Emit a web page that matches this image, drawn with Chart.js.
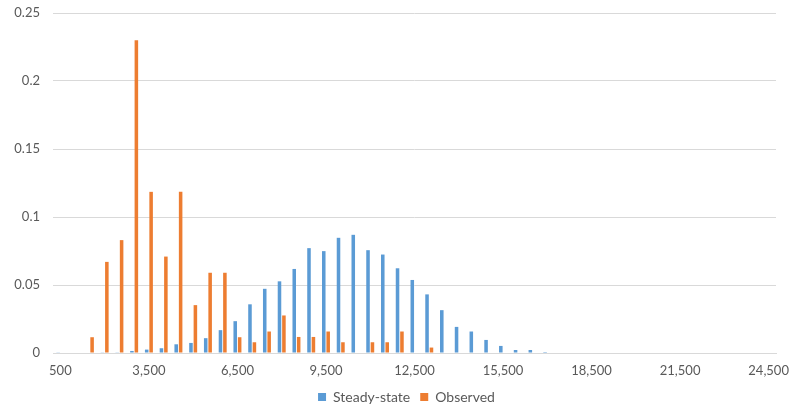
<!DOCTYPE html>
<html>
<head>
<meta charset="utf-8">
<script src="https://cdn.jsdelivr.net/npm/chart.js@4/dist/chart.umd.min.js"></script>
<style>
  html, body { margin: 0; padding: 0; background: #ffffff; }
  #wrap { width: 791px; height: 410px; position: relative; }
</style>
</head>
<body>
<div id="wrap"><canvas id="chart"></canvas></div>
<script>
// Bins of 500 from 500 to 24,500
const categories = [
  500, 1000, 1500, 2000, 2500, 3000, 3500, 4000, 4500, 5000,
  5500, 6000, 6500, 7000, 7500, 8000, 8500, 9000, 9500, 10000,
  10500, 11000, 11500, 12000, 12500, 13000, 13500, 14000, 14500, 15000,
  15500, 16000, 16500, 17000, 17500, 18000, 18500, 19000, 19500, 20000,
  20500, 21000, 21500, 22000, 22500, 23000, 23500, 24000, 24500
];

const steadyState = [
  0.0005, 0, 0, 0.0005, 0.0005, 0.0015, 0.0025, 0.0035, 0.0064, 0.0074,
  0.0109, 0.0168, 0.0234, 0.0358, 0.0472, 0.0527, 0.0618, 0.0771, 0.0749, 0.0847,
  0.0869, 0.0756, 0.0724, 0.0623, 0.0537, 0.0431, 0.0315, 0.0192, 0.0158, 0.0096,
  0.0052, 0.0022, 0.0022, 0.0007, 0, 0, 0, 0, 0, 0,
  0, 0, 0, 0, 0, 0, 0, 0, 0
];

const observed = [
  0, 0, 0.0116, 0.067, 0.083, 0.23, 0.1185, 0.0709, 0.1185, 0.0352,
  0.059, 0.059, 0.0116, 0.0079, 0.0158, 0.0276, 0.0118, 0.0118, 0.0158, 0.0079,
  0, 0.0079, 0.0079, 0.0158, 0, 0.004, 0, 0, 0, 0,
  0, 0, 0, 0, 0, 0, 0, 0, 0, 0,
  0, 0, 0, 0, 0, 0, 0, 0, 0
];

const yTicks = [0, 0.05, 0.1, 0.15, 0.2, 0.25];

const fmt = new Intl.NumberFormat('en-US');
const labels = categories.map(v => fmt.format(v));

const textColor = '#595959';
const gridColor = '#D9D9D9';
const font = { family: 'Lato, "Open Sans", sans-serif', size: 13 };
const legendFont = { family: 'Lato, "Open Sans", sans-serif', size: 14 };

new Chart(document.getElementById('chart'), {
  type: 'bar',
  data: {
    labels: labels,
    datasets: [
      {
        label: 'Steady-state',
        data: steadyState,
        backgroundColor: '#5B9BD5',
        categoryPercentage: 0.6,
        barPercentage: 0.8
      },
      {
        label: 'Observed',
        data: observed,
        backgroundColor: '#ED7D31',
        categoryPercentage: 0.6,
        barPercentage: 0.8
      }
    ]
  },
  options: {
    responsive: true,
    maintainAspectRatio: false,
    animation: false,
    // negative right padding widens the legend box so it centres under the plot
    layout: { padding: { left: 0, right: -22, top: 0, bottom: -4 } },
    plugins: {
      tooltip: { enabled: false },
      legend: {
        position: 'bottom',
        labels: {
          color: textColor,
          font: legendFont,
          boxWidth: 8,
          boxHeight: 8,
          padding: 10
        }
      }
    },
    scales: {
      x: {
        type: 'category',
        grid: { display: false },
        border: { display: true, color: gridColor, width: 1 },
        ticks: {
          color: textColor,
          font: font,
          autoSkip: false,
          maxRotation: 0,
          minRotation: 0,
          padding: 2,
          callback: function (value, index) {
            return index % 6 === 0 ? this.getLabelForValue(value) : '';
          }
        },
        afterFit: function (scale) {
          scale.height = 27;
          scale.paddingRight = 15;
        }
      },
      y: {
        min: 0,
        max: 0.25,
        grid: { color: gridColor, lineWidth: 1, drawTicks: false },
        border: { display: false },
        afterBuildTicks: function (scale) {
          scale.ticks = yTicks.map(v => ({ value: v }));
        },
        ticks: {
          color: textColor,
          font: font,
          padding: 13,
          callback: function (value) { return String(+value.toFixed(2)); }
        },
        afterFit: function (scale) {
          scale.width = 53;
          scale.paddingTop = 13;
          scale.paddingBottom = 0;
        }
      }
    }
  }
});
</script>
</body>
</html>
